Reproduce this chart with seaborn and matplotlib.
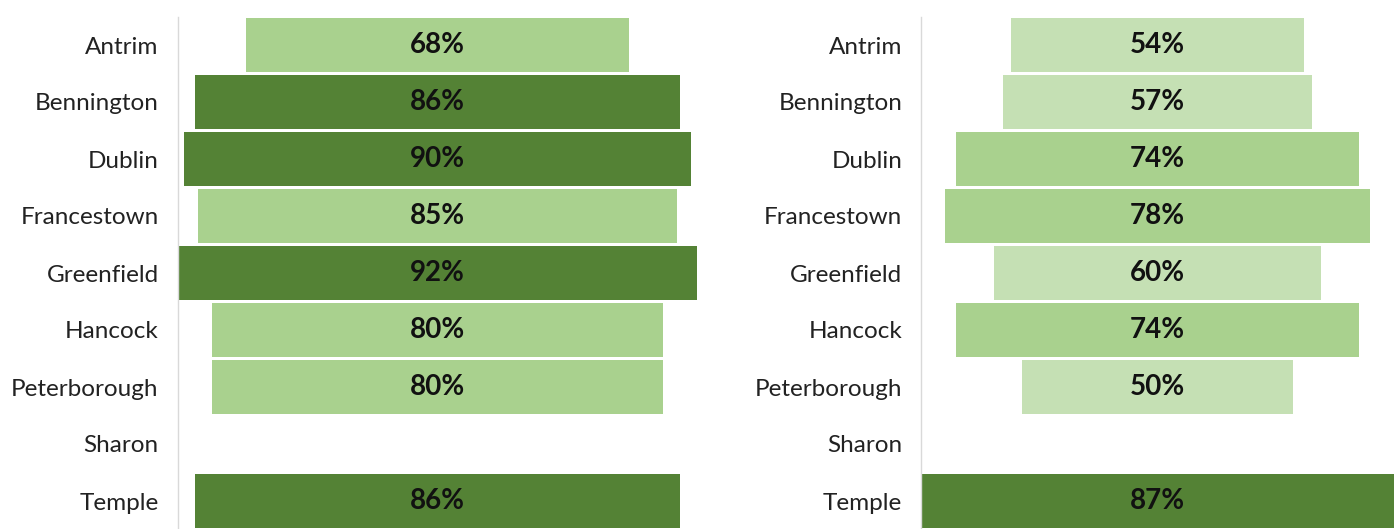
import numpy as np
import pandas as pd
import matplotlib
matplotlib.use("Agg")
import matplotlib.pyplot as plt
import seaborn as sns

# Town names (top to bottom) and the two percentage series
towns = ["Antrim", "Bennington", "Dublin", "Francestown", "Greenfield",
         "Hancock", "Peterborough", "Sharon", "Temple"]
left_values = [68, 86, 90, 85, 92, 80, 80, np.nan, 86]
right_values = [54, 57, 74, 78, 60, 74, 50, np.nan, 87]

# Fill shade tier per bar: 0 = pale, 1 = light, 2 = dark
left_tiers = [1, 2, 2, 1, 2, 1, 1, 1, 2]
right_tiers = [0, 0, 1, 1, 0, 1, 0, 0, 2]

shades = ["#c5e0b4", "#a9d18e", "#548235"]

sns.set_theme(style="white")
plt.rcParams["font.family"] = ["Lato", "DejaVu Sans"]

W, H = 1394, 529
fig = plt.figure(figsize=(W / 100, H / 100), dpi=100)


def funnel(ax, values, tiers, half_range, label_pad):
    df = pd.DataFrame({"town": towns, "value": values,
                       "tier": [str(t) for t in tiers]})
    palette = {str(i): c for i, c in enumerate(shades)}
    sns.barplot(data=df, x="value", y="town", hue="tier", palette=palette,
                orient="h", width=0.94, dodge=False, legend=False,
                linewidth=0, saturation=1, ax=ax)
    # center each bar on zero to form the funnel
    for p in ax.patches:
        w = p.get_width()
        if np.isfinite(w) and w > 0:
            p.set_x(-w / 2)
    for i, v in enumerate(values):
        if np.isfinite(v):
            ax.text(0, i, f"{v:.0f}%", ha="center", va="center",
                    fontsize=20, fontweight="bold", color="#111111")
    ax.set_xlim(-half_range, half_range)
    ax.set_ylim(len(towns) - 0.5, -0.5)
    ax.set_xlabel("")
    ax.set_ylabel("")
    ax.set_xticks([])
    ax.tick_params(axis="y", length=0, pad=label_pad, labelsize=17.5,
                   labelcolor="#222222")
    for s in ["top", "right", "bottom"]:
        ax.spines[s].set_visible(False)
    ax.spines["left"].set_color("#d9d9d9")
    ax.spines["left"].set_linewidth(1.0)


top_px, bot_px = 16.5, 529.5
ax_h = (bot_px - top_px) / H
ax_b = (H - bot_px) / H

ax1 = fig.add_axes([178 / W, ax_b, (697 - 178) / W, ax_h])
funnel(ax1, left_values, left_tiers, 46, 14)

ax2 = fig.add_axes([921 / W, ax_b, (1394 - 921) / W, ax_h])
funnel(ax2, right_values, right_tiers, 43.5, 13.5)

fig.savefig("out.png", dpi=100, facecolor="white")
